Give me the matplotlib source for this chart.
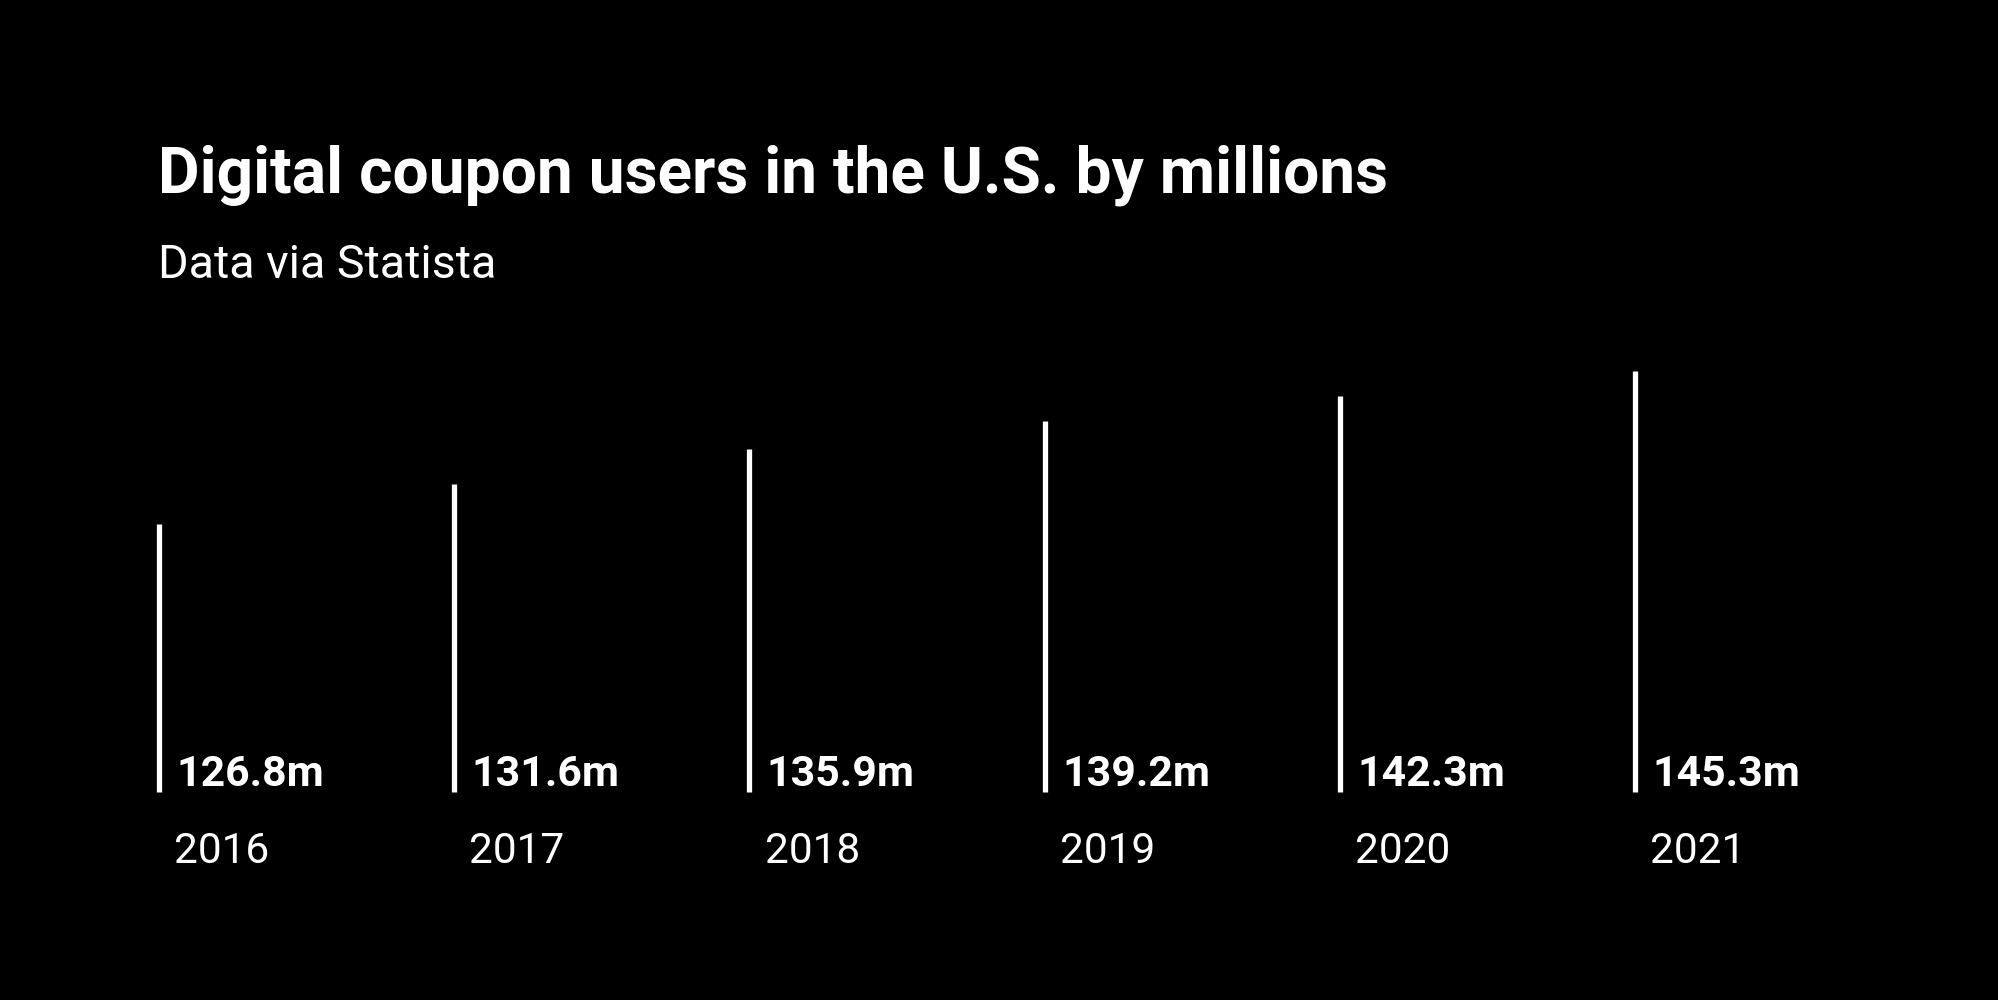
import matplotlib
matplotlib.use("Agg")
import matplotlib.pyplot as plt

years = ["2016", "2017", "2018", "2019", "2020", "2021"]
users = [126.8, 131.6, 135.9, 139.2, 142.3, 145.3]
value_labels = ["126.8m", "131.6m", "135.9m", "139.2m", "142.3m", "145.3m"]

title = "Digital coupon users in the U.S. by millions"
subtitle = "Data via Statista"

W, H = 1999, 1000
fig = plt.figure(figsize=(W / 100, H / 100), dpi=100, facecolor="black")

# axes in pixel coordinates
left_px, right_px = 159, 1635
bottom_px, top_px = 208, 634
ax = fig.add_axes([left_px / W, bottom_px / H, (right_px - left_px) / W, (top_px - bottom_px) / H])
ax.set_facecolor("black")
ymin, ymax = 94.3, 145.9
ax.set_xlim(0, len(years) - 1)
ax.set_ylim(ymin, ymax)
ax.axis("off")

xs = list(range(len(years)))
ax.vlines(xs, ymin, users, colors="white", linewidth=3.8, capstyle="butt", clip_on=False)

for i, (yr, lab) in enumerate(zip(years, value_labels)):
    ax.annotate(lab, xy=(i, ymin), xytext=(12.5, 4.3), textcoords="offset points",
                ha="left", va="baseline", color="white", fontsize=30.8,
                fontfamily="Roboto", fontweight="bold", annotation_clip=False)
    ax.annotate(yr, xy=(i, ymin), xytext=(11.0, -51), textcoords="offset points",
                ha="left", va="baseline", color="white", fontsize=30.5,
                fontfamily="Roboto", fontweight="normal", annotation_clip=False)

fig.text(158 / W, 1 - 192 / H, title, ha="left", va="baseline", color="white",
         fontsize=46.1, fontfamily="Roboto", fontweight="bold")
fig.text(158 / W, 1 - 278 / H, subtitle, ha="left", va="baseline", color="white",
         fontsize=33.5, fontfamily="Roboto", fontweight="normal")

fig.savefig("out.png", dpi=100, facecolor="black")
